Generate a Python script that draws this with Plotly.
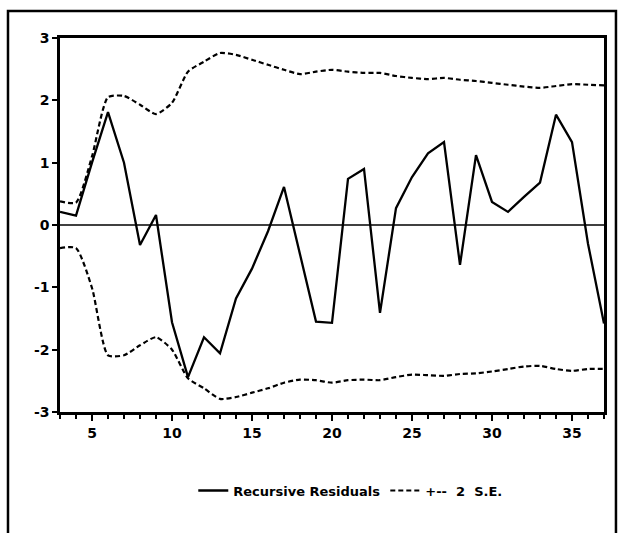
import plotly.graph_objects as go

t = list(range(3, 38))
residuals = [0.21, 0.15, 1.0, 1.81, 1.0, -0.32, 0.16, -1.56, -2.44, -1.8, -2.06, -1.18,
             -0.7, -0.1, 0.61, -0.47, -1.55, -1.57, 0.74, 0.9, -1.41, 0.27, 0.77, 1.15,
             1.33, -0.64, 1.12, 0.37, 0.21, 0.45, 0.68, 1.77, 1.33, -0.3, -1.58]
upper = [0.38, 0.36, 1.1, 2.05, 2.07, 1.93, 1.78, 1.96, 2.46, 2.62, 2.76, 2.73, 2.65,
         2.57, 2.49, 2.42, 2.46, 2.49, 2.46, 2.44, 2.44, 2.39, 2.36, 2.34, 2.36, 2.33,
         2.31, 2.28, 2.25, 2.22, 2.2, 2.23, 2.26, 2.25, 2.24]
lower = [-0.37, -0.37, -1.01, -2.09, -2.09, -1.93, -1.8, -2.0, -2.46, -2.62, -2.79,
         -2.76, -2.69, -2.62, -2.53, -2.48, -2.49, -2.53, -2.49, -2.48, -2.49, -2.44,
         -2.4, -2.41, -2.42, -2.39, -2.38, -2.35, -2.31, -2.27, -2.26, -2.31, -2.34,
         -2.31, -2.31]
ytick_vals = [-3, -2, -1, 0, 1, 2, 3]
ytick_text = ["-3", "-2", "-1", "0", "1", "2", "3"]
xtick_vals = [5, 10, 15, 20, 25, 30, 35]

FONT = "DejaVu Sans"
fig = go.Figure()
fig.add_trace(go.Scatter(x=t, y=residuals, mode="lines", name="Recursive Residuals",
                         line=dict(color="black", width=2.3)))
fig.add_trace(go.Scatter(x=t, y=upper, mode="lines", name="+--  2  S.E.",
                         line=dict(color="black", width=2.2, dash="5px,3px", shape="spline", smoothing=0.6)))
fig.add_trace(go.Scatter(x=t, y=lower, mode="lines", showlegend=False,
                         line=dict(color="black", width=2.2, dash="5px,3px", shape="spline", smoothing=0.6)))

# zero line
fig.add_hline(y=0, line=dict(color="black", width=1.5))

# outer frame
fig.add_shape(type="rect", xref="paper", yref="paper", x0=-0.0956, x1=1.022, y0=-0.4, y1=1.072,
              line=dict(color="black", width=2.5), layer="below")

fig.update_layout(
    width=624, height=533,
    margin=dict(l=60, r=20, t=38, b=121),
    paper_bgcolor="white", plot_bgcolor="white",
    font=dict(family=FONT, color="black", size=14, weight="bold"),
    showlegend=True,
    legend=dict(orientation="h", x=0.245, y=-0.21, xanchor="left", yanchor="middle",
                font=dict(family=FONT, size=13, weight="bold"), itemwidth=30,
                bgcolor="rgba(0,0,0,0)"),
)
fig.update_xaxes(range=[3, 37], tickvals=xtick_vals, ticks="outside", ticklen=6, tickwidth=1.5,
                 tickcolor="black", showgrid=False, zeroline=False, showline=True, linewidth=2.5,
                 linecolor="black", mirror=True,
                 minor=dict(dtick=1, tick0=3, ticks="outside", ticklen=4, tickwidth=1.5, tickcolor="black"),
                 tickfont=dict(family=FONT, size=14, weight="bold"))
fig.update_yaxes(range=[-3, 3], tickvals=ytick_vals, ticktext=ytick_text, ticks="outside", ticklen=5,
                 tickwidth=1.5, tickcolor="black", showgrid=False, zeroline=False, showline=True,
                 linewidth=2.5, linecolor="black", mirror=True,
                 tickfont=dict(family=FONT, size=14, weight="bold"))

fig.write_html("out.html", config={"displayModeBar": False},
               post_script="document.body.style.margin='0';")
